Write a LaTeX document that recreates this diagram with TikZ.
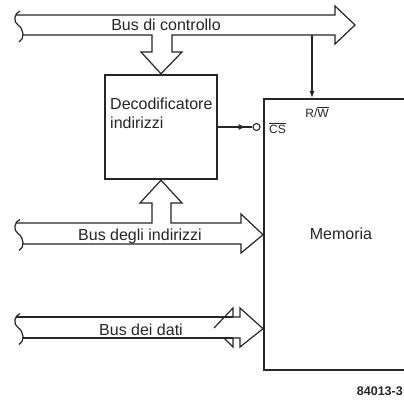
\documentclass[tikz,border=0pt]{standalone}
\usepackage{fontspec}
\setmainfont{Liberation Sans}
\usetikzlibrary{arrows.meta,positioning,decorations.markings}
\definecolor{busInk}{HTML}{262626}
\begin{document}
\begin{tikzpicture}[x=1pt,y=-1pt,>=Latex,line join=miter]
\useasboundingbox (0,0) rectangle (404,399);
\path[fill=white] (0,0) rectangle (404,399);
\tikzset{bus/.style={draw=busInk,line width=1.2pt},thinwire/.style={draw=busInk,line width=1.1pt},blockbox/.style={draw=busInk,line width=2.4pt,inner sep=0pt},lbl/.style={font=\fontsize{16}{19}\selectfont,text=busInk,inner sep=0pt},pinlbl/.style={font=\fontsize{12}{14}\selectfont,text=busInk,inner sep=0pt},midarrow/.style={postaction={decorate},decoration={markings,mark=at position 0.8 with {\arrow{Latex[length=7pt,width=6pt]}}}}}
% blocks
\node[blockbox,minimum width=112pt,minimum height=104pt] (dec) at (161,127) {};
\node[blockbox,anchor=north west,minimum width=160pt,minimum height=271pt] (mem) at (263,98) {};
\node[lbl,anchor=base west,align=left] (declbl) at (110,128) {Decodificatore\\indirizzi};
\node[lbl,anchor=base] (memlbl) at (341,239) {Memoria};
\node[pinlbl,anchor=base] (rwlbl) at (317,117) {R/$\overline{\hbox{W}}$};
\node[pinlbl,anchor=base west] (cslbl) at (269,133) {$\overline{\hbox{CS}}$};
\node[draw=busInk,line width=1.1pt,circle,minimum size=7pt,inner sep=0pt] (csdot) at (256.5,127) {};
% control bus
\coordinate (rwtap) at (312,35);
\draw[bus] (16,15) -- (335,15) -- (335,6) -- (355,25) -- (335,44) -- (335,35) -- (rwtap) -- (172,35) -- (172,52) -- (182,52) -- (dec.north) -- (141,52) -- (152,52) -- (152,35) -- (23,35);
\node[lbl,anchor=base] (ctrllbl) at (166,30) {Bus di controllo};
% address bus
\draw[bus] (16,223) -- (152,223) -- (152,203) -- (140,203) -- (dec.south) -- (182,203) -- (171,203) -- (171,223) -- (241,223) -- (241,214) -- (mem.west) -- (241,253) -- (241,244) -- (23,244);
\node[lbl,anchor=base] (addrlbl) at (140,240) {Bus degli indirizzi};
% data bus
\draw[bus] (16,317) -- (233,317);
\draw[bus] (23,338) -- (233,338);
\draw[bus] (214,328) -- (233,308) -- (233,317) -- (240,317) -- (240,308) -- ([yshift=-94pt]mem.west) -- (240,347) -- (240,338) -- (233,338) -- (233,347) -- (224,338);
\node[lbl,anchor=base] (datalbl) at (141,335) {Bus dei dati};
% wavy bus ends
\foreach \yc in {25,233.5,327.5}
  \draw[bus] (20,\yc-14) .. controls (14,\yc-12) and (13,\yc-3) .. (18,\yc) .. controls (24,\yc+4) and (25,\yc+14) .. (19,\yc+17);
% pins
\draw[thinwire,-{Latex[length=7pt,width=5pt]}] (rwtap) -- (mem.north -| rwtap);
\draw[thinwire,midarrow] (dec.east) -- (csdot.west);
\node[font=\fontsize{12.5}{14}\selectfont\bfseries,text=busInk,inner sep=0pt,anchor=base east] (figno) at (403,395) {84013-3};
\end{tikzpicture}
\end{document}
